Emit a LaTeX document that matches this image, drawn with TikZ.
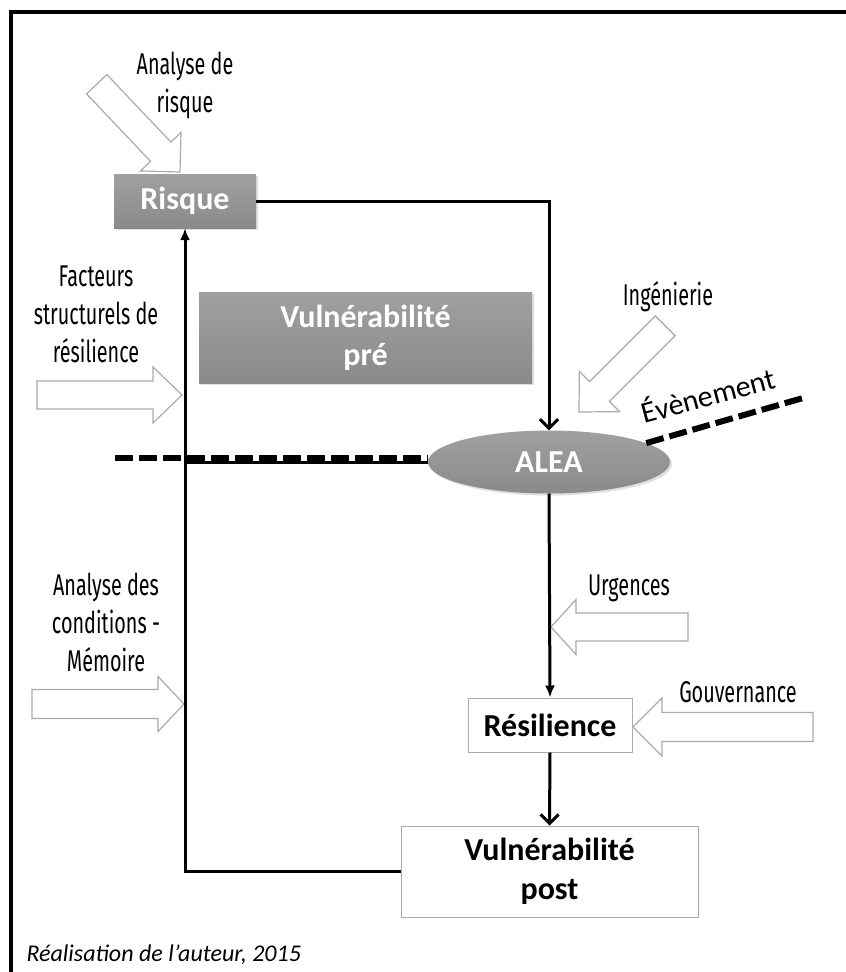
\documentclass[tikz,border=0pt]{standalone}
\usepackage{fontspec}
\usepackage{tikz}
\usetikzlibrary{arrows.meta,positioning,shadows,shapes.geometric}
\newfontfamily\carlito{Carlito}
\newfontfamily\etiqfont{Fira Sans}[FakeStretch=0.66]

\definecolor{grisfonce}{HTML}{8A8A8A}
\definecolor{grisclair}{HTML}{A0A0A0}
\definecolor{contour}{HTML}{ABABAB}

\tikzset{
  grisbox/.style={rectangle,top color=grisclair,bottom color=grisfonce,draw=none,
    text=white,font=\carlito\bfseries\fontsize{32}{38}\selectfont,align=center,
    drop shadow={opacity=0.25,shadow xshift=2pt,shadow yshift=-2pt}},
  blancbox/.style={rectangle,fill=white,draw=contour,line width=1pt,
    text=black,font=\carlito\bfseries\fontsize{32}{39}\selectfont,align=center},
  etiquette/.style={font=\etiqfont\fontsize{30}{38}\selectfont,align=center,inner sep=0pt},
  lien/.style={line width=3pt,draw=black},
  tirets/.style={line width=6pt,dash pattern=on 18pt off 6pt},
  bloc/.style={draw=contour,fill=white,line width=1.2pt,line join=miter},
  cadre/.style={line width=3.5pt}
}

\newcommand{\fleche}[7]{%
  \coordinate (#1) at #2;
  \draw[bloc,shift={(#1)},rotate=#3] (0,0) -- (-#7,#6) -- (-#7,#5) -- (-#4,#5)
    -- (-#4,-#5) -- (-#7,-#5) -- (-#7,-#6) -- cycle;}

\begin{document}
\begin{tikzpicture}[x=1pt,y=-1pt]
  \useasboundingbox[fill=white] (0,0) rectangle (846,972);
  \draw[cadre] (846,12) -- (11,12) -- (11,972);

  \fleche{fA}{(180,172)}{-46.5}{121}{14}{28}{28}
  \fleche{fB}{(182,395)}{0}{145}{14}{28}{29}
  \fleche{fC}{(579,412)}{-135}{122}{14}{28.5}{29}
  \fleche{fD}{(184,704)}{0}{152}{14.5}{27.5}{26}
  \fleche{fE}{(551,627)}{180}{137}{14}{27.5}{25}
  \fleche{fF}{(633,727)}{180}{180}{14.5}{29}{29}

  \node[grisbox,minimum width=142pt,minimum height=54pt] (risque) at (185,201) {Risque};
  \node[grisbox,minimum width=333pt,minimum height=91pt] (pre) at (365.5,337.5) {Vuln\'erabilit\'e\\pr\'e};
  \node[grisbox,ellipse,minimum width=242pt,minimum height=63pt] (alea) at (549,462) {ALEA};
  \node[blancbox,minimum width=164pt,minimum height=54pt] (resil) at (550,725) {R\'esilience};
  \node[blancbox,minimum width=297pt,minimum height=91pt] (post) at (549.5,871.5) {Vuln\'erabilit\'e\\post};

  \node[etiquette] (tA) at (185,85) {Analyse de\\risque};
  \node[etiquette] (tB) at (96,314) {Facteurs\\structurels de\\r\'esilience};
  \node[etiquette] (tC) at (668,297) {Ing\'enierie};
  \node[etiquette] (tD) at (106,622) {Analyse des\\conditions -\\M\'emoire};
  \node[etiquette] (tE) at (629,588) {Urgences};
  \node[etiquette] (tF) at (738,692) {Gouvernance};
  \node[font=\carlito\fontsize{30}{36}\selectfont,rotate=15] (evt) at (708,394) {\'Ev\`enement};
  \node[font=\carlito\itshape\fontsize{24}{28}\selectfont,anchor=west] (source) at (23,955) {R\'ealisation de l’auteur, 2015};

  \coordinate (gauche) at (115,458);
  \coordinate (droite) at (803,398);
  \draw[tirets] (gauche) -- (gauche -| alea.west);
  \draw[tirets] (alea.11) -- (droite);
  \draw[lien] (risque.south |- alea.west) -- (alea.west);

  \draw[lien,-{Straight Barb[length=9pt,width=18pt]}] (risque.east) -| (alea.north);
  \draw[lien,-{Latex[length=12pt,width=10pt]}] (alea.south) -- (resil.north);
  \draw[lien,-{Straight Barb[length=9pt,width=18pt]}] (resil.south) -- (post.north);
  \draw[lien,-{Latex[length=12pt,width=10pt]}] (post.west) -| (risque.south);
\end{tikzpicture}
\end{document}
